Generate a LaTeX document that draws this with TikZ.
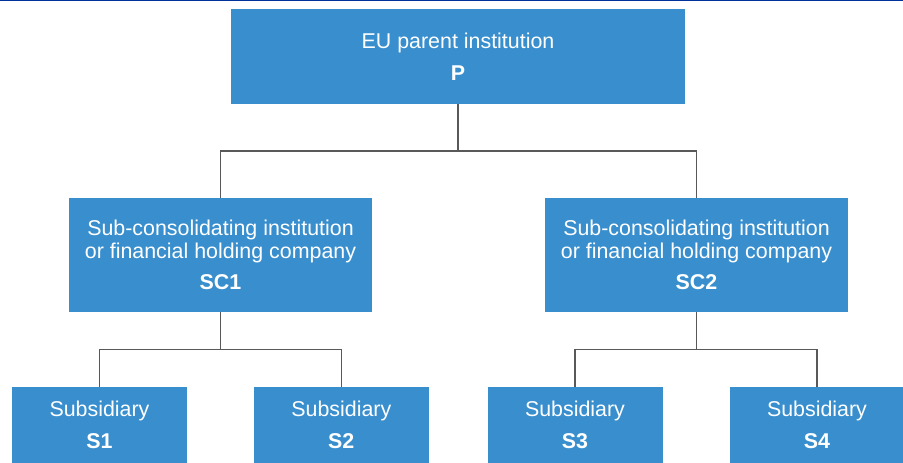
\documentclass[tikz,border=0pt]{standalone}
\usepackage{fontspec}
\setmainfont{Liberation Sans}
\usetikzlibrary{calc}
\definecolor{boxblue}{RGB}{57,143,206}
\definecolor{linegray}{RGB}{89,89,89}
\definecolor{topblue}{RGB}{0,51,153}
\begin{document}
\begin{tikzpicture}[x=1pt,y=1pt,
    box/.style={fill=boxblue,text=white,align=center,inner sep=0pt,
      font=\fontsize{21.4}{23.3}\selectfont},
    link/.style={draw=linegray,line width=1.5pt}]
      \useasboundingbox (0,0) rectangle (903,463);
      \draw[topblue,line width=1.5pt] (0,462.25) -- (903,462.25);

      \node[box,minimum width=454pt,minimum height=95pt] (P) at (458,406.5)
        {EU parent institution\\[8.7pt]\textbf{P}};

      \def \Subcons {
        SC1/220.5,
        SC2/696.5}
      \def \Subs {
        S1/99.5,
        S2/341.3,
        S3/575,
        S4/817}
      \def \Edges {
        P/SC1,
        P/SC2,
        SC1/S1,
        SC1/S2,
        SC2/S3,
        SC2/S4}

      \foreach \id / \x in \Subcons {
        \node[box,minimum width=303pt,minimum height=114pt] (\id) at (\x,208)
          {Sub-consolidating institution\\or financial holding company\\[8pt]\textbf{\id}};
      }
      \foreach \id / \x in \Subs {
        \node[box,minimum width=175pt,minimum height=76pt] (\id) at (\x,38)
          {Subsidiary\\[8.7pt]\textbf{\id}};
      }
      \foreach \a / \b in \Edges {
        \path[link] (\a.south) |- ($(\a.south)!0.5!(\b.north)$) -| (\b.north);
      }
    \end{tikzpicture}
\end{document}
